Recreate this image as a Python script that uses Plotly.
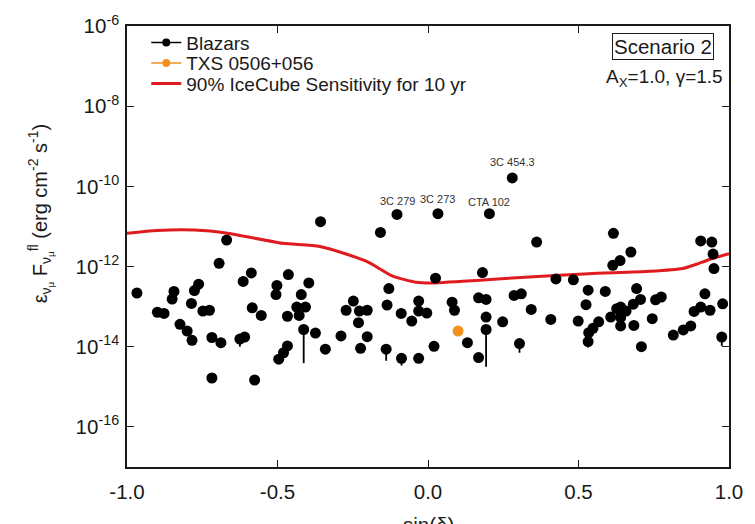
import plotly.graph_objects as go

# ---- data -------------------------------------------------------------
# Blazar sample: sin(declination) and log10 of the neutrino energy flux
blazar_sin_dec = [
    -0.967, -0.899, -0.877, -0.850, -0.844, -0.824, -0.800, -0.786, -0.784, -0.776,
    -0.762, -0.748, -0.726, -0.718, -0.718, -0.694, -0.688, -0.669, -0.625, -0.614,
    -0.609, -0.587, -0.584, -0.576, -0.554, -0.505, -0.502, -0.496, -0.480, -0.467,
    -0.467, -0.464, -0.436, -0.428, -0.421, -0.413, -0.407, -0.396, -0.374, -0.357,
    -0.341, -0.289, -0.272, -0.248, -0.231, -0.228, -0.224, -0.202, -0.202, -0.158,
    -0.139, -0.136, -0.130, -0.089, -0.088, -0.054, -0.031, -0.031, -0.031, -0.004,
    0.020, 0.025, 0.080, 0.088, 0.131, 0.168, 0.168, 0.181, 0.193, 0.193,
    0.193, 0.248, 0.286, 0.304, 0.310, 0.343, 0.361, 0.408, 0.425, 0.483,
    0.499, 0.525, 0.532, 0.532, 0.534, 0.548, 0.567, 0.589, 0.607, 0.614,
    0.616, 0.627, 0.638, 0.640, 0.640, 0.640, 0.658, 0.674, 0.682, 0.684,
    0.693, 0.706, 0.709, 0.745, 0.756, 0.775, 0.815, 0.848, 0.873, 0.884,
    0.906, 0.906, 0.920, 0.937, 0.943, 0.947, 0.950, 0.976, 0.979,
]
blazar_log_flux = [
    -12.66, -13.14, -13.17, -12.81, -12.62, -13.44, -13.61, -12.92, -13.84, -12.60,
    -12.44, -13.11, -13.09, -13.77, -14.78, -11.92, -13.90, -11.34, -13.81, -12.37,
    -13.76, -12.16, -13.03, -14.83, -13.22, -12.70, -12.47, -14.31, -14.15, -13.24,
    -13.98, -12.20, -13.01, -13.22, -12.70, -13.57, -13.01, -12.41, -13.66, -10.88,
    -14.06, -13.73, -13.09, -12.86, -13.40, -13.11, -14.04, -13.09, -13.75, -11.15,
    -14.06, -12.96, -12.55, -13.17, -14.29, -13.36, -12.86, -13.11, -14.29, -13.16,
    -13.99, -12.29, -12.89, -13.09, -13.90, -12.78, -14.27, -12.15, -12.82, -13.26,
    -13.57, -13.38, -12.72, -13.92, -12.68, -13.07, -11.39, -13.32, -12.31, -12.33,
    -13.36, -12.95, -12.59, -13.87, -13.65, -13.54, -13.38, -12.62, -13.26, -11.97,
    -11.17, -13.05, -11.85, -13.01, -13.27, -13.48, -13.11, -11.64, -12.94, -13.47,
    -12.55, -12.82, -14.00, -13.30, -12.83, -12.76, -13.71, -13.58, -13.48, -13.12,
    -11.36, -13.01, -12.68, -13.09, -11.39, -11.69, -12.05, -13.76, -12.93,
]
# lower end of the downward uncertainty (log10), None where no bar is drawn
blazar_log_flux_low = [None] * len(blazar_sin_dec)
for idx, low in {18: -14.00, 35: -14.41, 50: -14.35, 54: -14.47, 70: -14.50,
                 73: -14.15, 80: -13.48, 83: -14.02, 117: -13.98}.items():
    blazar_log_flux_low[idx] = low

# brightest sources, labelled by name
named_sources = ["3C 279", "3C 273", "CTA 102", "3C 454.3"]
named_sin_dec = [-0.103, 0.033, 0.204, 0.280]
named_log_flux = [-10.70, -10.68, -10.68, -9.79]
named_label_shift = [13, 15, 12, 16]

# TXS 0506+056
txs_sin_dec = [0.100]
txs_log_flux = [-13.61]

# 90% IceCube sensitivity for 10 yr
sens_sin_dec = [-1.0, -0.900, -0.775, -0.666, -0.483, -0.359, -0.204, -0.117,
                -0.040, 0.009, 0.173, 0.337, 0.534, 0.737, 0.846, 0.889, 0.933, 1.0]
sens_log_flux = [-11.17, -11.10, -11.09, -11.17, -11.42, -11.50, -11.87, -12.24,
                 -12.39, -12.41, -12.34, -12.26, -12.18, -12.12, -12.05, -11.95,
                 -11.83, -11.68]

x_tick_vals = [-1.0, -0.5, 0.0, 0.5, 1.0]
x_tick_text = ["-1.0", "-0.5", "0.0", "0.5", "1.0"]
y_tick_exp = [-16, -14, -12, -10, -8, -6]

# ---- styling ----------------------------------------------------------
FONT = "Liberation Sans, Arial, sans-serif"
INK = "#1a1a1a"
RED = "#e01b1f"
ORANGE = "#f39020"
BIG = 20.5

all_sin_dec = blazar_sin_dec + named_sin_dec
all_log_flux = blazar_log_flux + named_log_flux
all_low = blazar_log_flux_low + [None] * len(named_sin_dec)
flux = [10 ** v for v in all_log_flux]
err_minus = [0 if lo is None else 10 ** v - 10 ** lo for v, lo in zip(all_log_flux, all_low)]

fig = go.Figure()

fig.add_trace(go.Scatter(
    x=sens_sin_dec, y=[10 ** v for v in sens_log_flux],
    mode="lines", line=dict(color=RED, width=3, shape="spline", smoothing=0.6),
    showlegend=False, hoverinfo="skip",
))
fig.add_trace(go.Scatter(
    x=all_sin_dec, y=flux, mode="markers",
    marker=dict(color="black", size=11),
    error_y=dict(type="data", symmetric=False, array=[0] * len(flux),
                 arrayminus=err_minus, color="black", thickness=1.8, width=0),
    showlegend=False,
))
fig.add_trace(go.Scatter(
    x=txs_sin_dec, y=[10 ** v for v in txs_log_flux], mode="markers",
    marker=dict(color=ORANGE, size=11), showlegend=False,
))

# legend entries, one legend per row for tight spacing
legend_rows = [
    ("Blazars", "lines+markers", "black", 1.5, "legend"),
    ("TXS 0506+056", "lines+markers", ORANGE, 1.5, "legend2"),
    ("90% IceCube Sensitivity for 10 yr", "lines", RED, 3, "legend3"),
]
for name, mode, color, lw, leg in legend_rows:
    fig.add_trace(go.Scatter(
        x=[None], y=[None], mode=mode, name=name, legend=leg,
        line=dict(color=color, width=lw), marker=dict(color=color, size=8),
    ))

legend_style = dict(x=0.032, xanchor="left", yanchor="middle",
                    bgcolor="rgba(0,0,0,0)", borderwidth=0,
                    font=dict(family=FONT, size=19, color=INK),
                    itemwidth=30)

for name, x, y, dy in zip(named_sources, named_sin_dec, named_log_flux, named_label_shift):
    fig.add_annotation(x=x, y=y, text=name, showarrow=False, yshift=dy,
                       font=dict(family=FONT, size=11, color="#333333"))

fig.add_annotation(xref="paper", yref="paper", x=0.891, y=0.953,
                   xanchor="center", yanchor="middle",
                   text="Scenario 2", showarrow=False,
                   bordercolor=INK, borderwidth=1, borderpad=1,
                   font=dict(family=FONT, size=BIG, color=INK))
fig.add_annotation(xref="paper", yref="paper", x=0.893, y=0.882,
                   xanchor="center", yanchor="middle",
                   text="A<sub>X</sub>=1.0, γ=1.5", showarrow=False,
                   font=dict(family=FONT, size=19, color=INK))

fig.add_annotation(xref="paper", yref="paper", x=-0.143, y=0.575,
                   xanchor="center", yanchor="middle",
                   textangle=-90, showarrow=False,
                   text="ε<sub>ν<sub>μ</sub></sub> F<sub>ν<sub>μ</sub></sub><sup>fl</sup> (erg cm<sup>-2</sup> s<sup>-1</sup>)",
                   font=dict(family=FONT, size=20, color=INK))
fig.add_annotation(xref="paper", yref="paper", x=0.5, y=-0.13,
                   xanchor="center", yanchor="middle", text="sin(δ)", showarrow=False,
                   font=dict(family=FONT, size=BIG, color=INK))

axis_common = dict(showline=True, linecolor=INK, linewidth=1.5, mirror="ticks",
                   ticks="inside", ticklen=7, tickwidth=1.2, tickcolor=INK,
                   showgrid=False, zeroline=False,
                   tickfont=dict(family=FONT, size=BIG, color=INK))

fig.update_layout(
    width=755, height=524,
    margin=dict(l=127, r=18, t=23, b=57),
    paper_bgcolor="white", plot_bgcolor="white",
    font=dict(family=FONT, color=INK),
    xaxis=dict(range=[-1, 1], tickvals=x_tick_vals, ticktext=x_tick_text,
               ticklabelstandoff=6, **axis_common),
    yaxis=dict(type="log", range=[-17, -6],
               tickvals=[10 ** e for e in y_tick_exp],
               ticktext=[f"10<sup>{e}</sup>" for e in y_tick_exp],
               ticklabelstandoff=2, **axis_common),
    legend=dict(y=0.962, **legend_style),
    legend2=dict(y=0.916, **legend_style),
    legend3=dict(y=0.869, **legend_style),
)

fig.write_html("out.html")
